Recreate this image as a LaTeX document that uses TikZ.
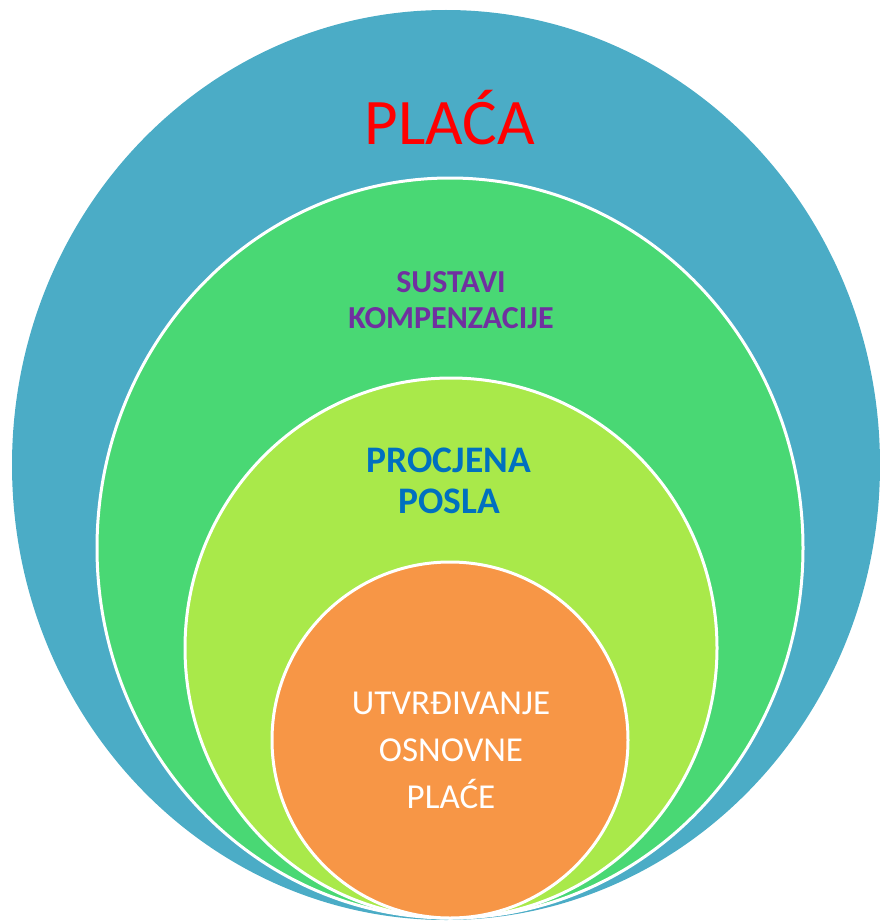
\documentclass[tikz,border=0pt]{standalone}
\usepackage{fontspec}
\setmainfont{Carlito}

\definecolor{placablue}{HTML}{4BACC6}
\definecolor{sustavgreen}{HTML}{49D874}
\definecolor{procjenalime}{HTML}{A9E94A}
\definecolor{osnovaorange}{HTML}{F79646}
\definecolor{kompviolet}{HTML}{7030A0}
\definecolor{procjenablue}{HTML}{0070C0}

\tikzset{
    ring/.style={draw=white, line width=3pt},
    lbl/.style={align=center, inner sep=0pt}
}

\begin{document}
\begin{tikzpicture}[x=1pt, y=-1pt]
    \useasboundingbox (0,0) rectangle (880,923);

    % Draw the nested circles, all touching at the bottom
    \fill[placablue] (446,465) ellipse [x radius=434, y radius=455];
    \filldraw[ring, fill=sustavgreen] (450,548) ellipse [x radius=353, y radius=370];
    \filldraw[ring, fill=procjenalime] (451,648) ellipse [x radius=266, y radius=270];
    \filldraw[ring, fill=osnovaorange] (450,740) circle [radius=178];

    % Add labels
    \node[lbl, text=red, font=\fontsize{65}{72}\selectfont] (placa) at (450,118) {PLAĆA};
    \node[lbl, text=kompviolet, font=\bfseries\fontsize{32}{36}\selectfont] (sustavi) at (451,300) {SUSTAVI\\KOMPENZACIJE};
    \node[lbl, text=procjenablue, font=\bfseries\fontsize{37.5}{41}\selectfont] (procjena) at (449,481) {PROCJENA\\POSLA};
    \node[lbl, text=white, font=\fontsize{35}{47}\selectfont] (osnova) at (451,750) {UTVRĐIVANJE\\OSNOVNE\\PLAĆE};
\end{tikzpicture}
\end{document}
